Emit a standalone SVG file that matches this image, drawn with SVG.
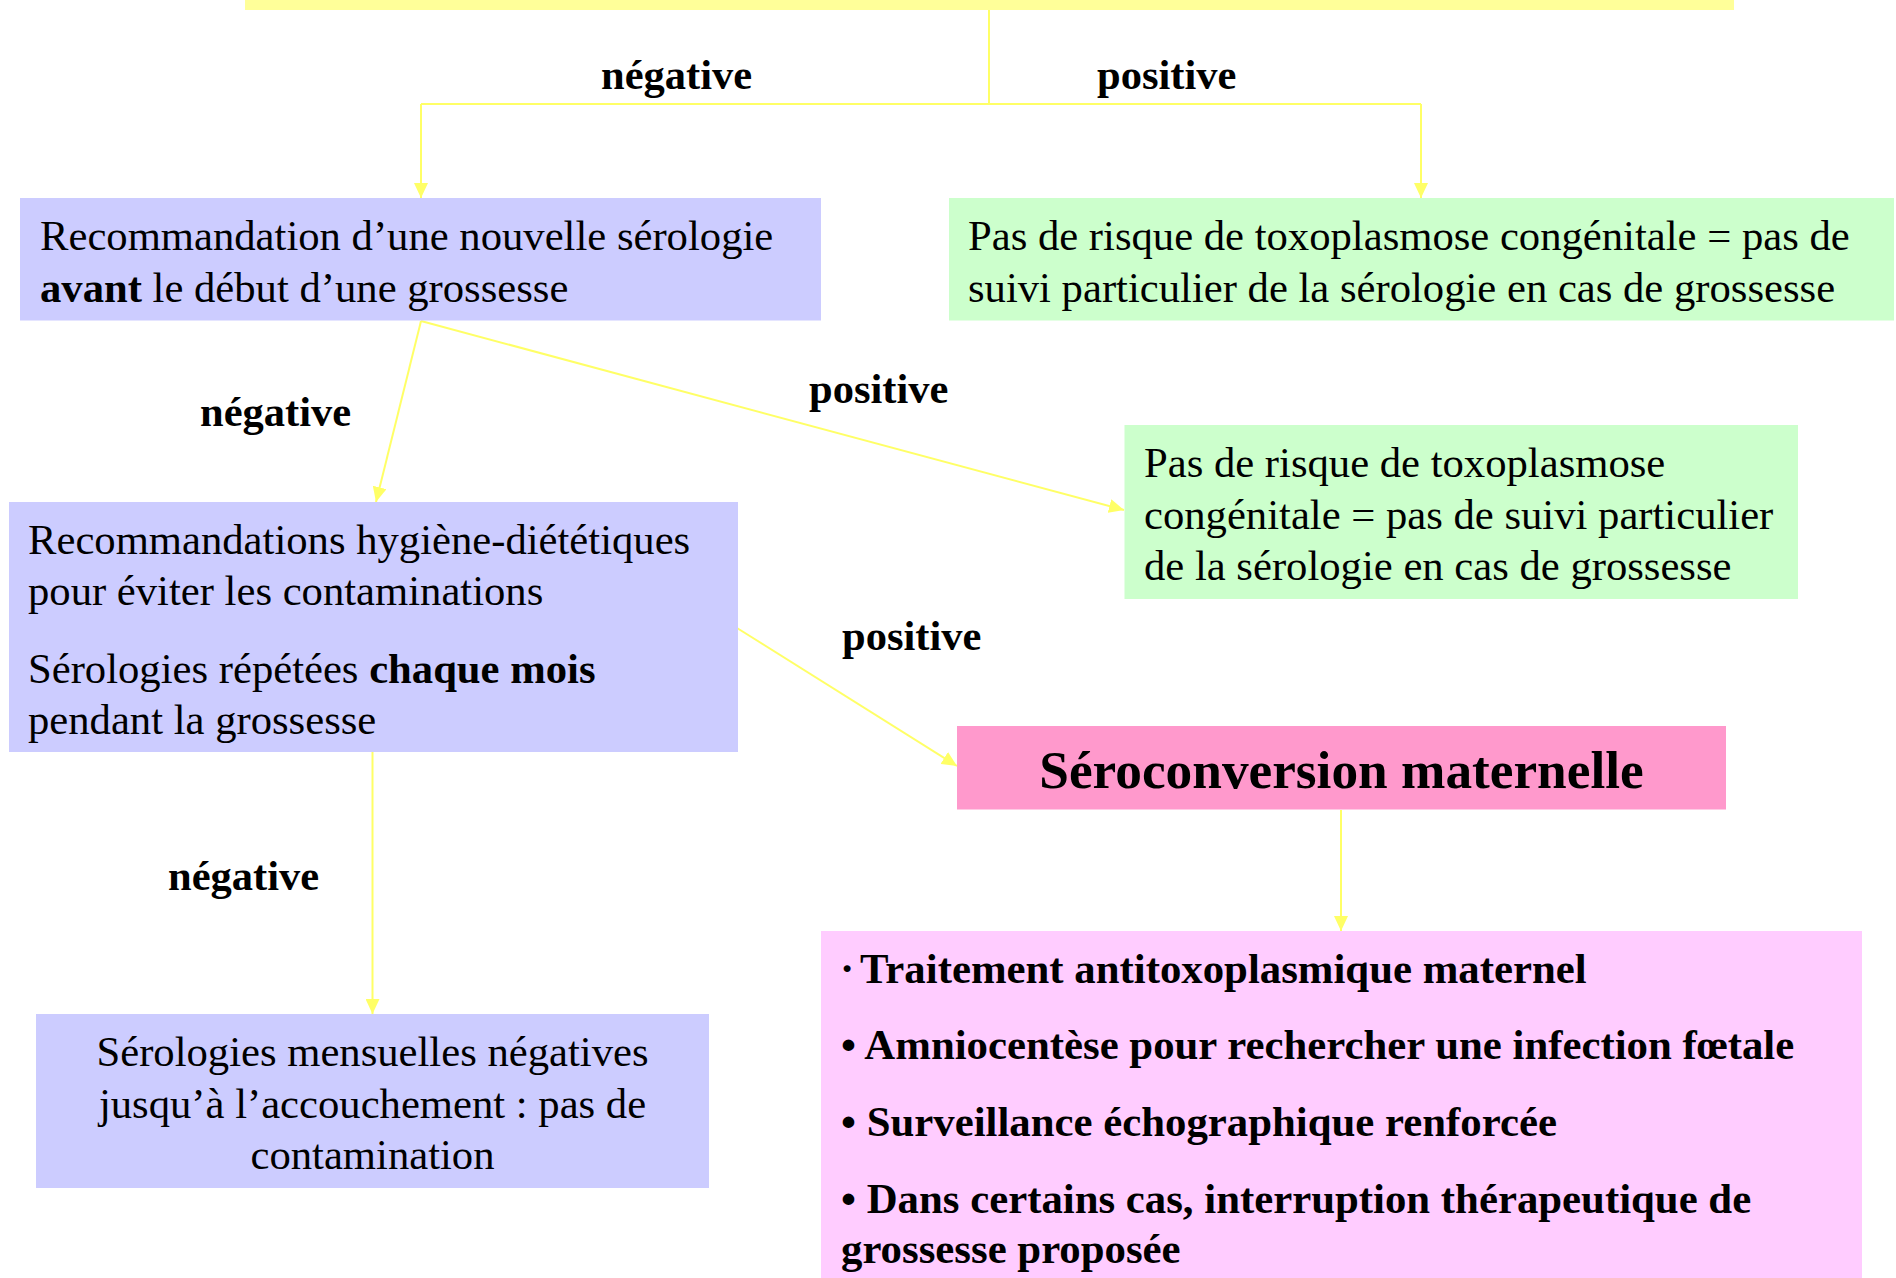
<svg xmlns="http://www.w3.org/2000/svg" width="1896" height="1278" viewBox="0 0 1896 1278">
<style>
.t{font-family:"Liberation Serif","Times New Roman",serif;font-size:42.67px;fill:#000}
.b{font-weight:bold}
.lbl{font-family:"Liberation Serif","Times New Roman",serif;font-size:42.5px;font-weight:bold;fill:#000}
.bl{font-family:"Liberation Serif","Times New Roman",serif;font-size:42.8px;font-weight:bold;fill:#000}
.c{stroke:#FFFF66;stroke-width:2;fill:none}
</style>
<defs>
<marker id="ah" markerUnits="userSpaceOnUse" markerWidth="16" markerHeight="14" refX="15" refY="7" orient="auto">
<path d="M0,0 L15,7 L0,14 Z" fill="#FFFF66"/>
</marker>
</defs>
<rect width="1896" height="1278" fill="#FFFFFF"/>

<g id="top">
<rect x="245" y="-40" width="1489" height="50" fill="#FFFF99"/>
</g>

<g id="connectors">
<path class="c" d="M989,10 V104"/>
<path class="c" d="M421,104 H1421"/>
<path class="c" d="M421,104 V198" marker-end="url(#ah)"/>
<path class="c" d="M1421,104 V198" marker-end="url(#ah)"/>
<path class="c" d="M421,321 L376,502" marker-end="url(#ah)"/>
<path class="c" d="M421,321 L1124,510" marker-end="url(#ah)"/>
<path class="c" d="M737,628 L957,766" marker-end="url(#ah)"/>
<path class="c" d="M372.5,752 V1014" marker-end="url(#ah)"/>
<path class="c" d="M1341,810 V931" marker-end="url(#ah)"/>
</g>

<g id="labels">
<text class="lbl" x="601" y="89">négative</text>
<text class="lbl" x="1097" y="89">positive</text>
<text class="lbl" x="200" y="426">négative</text>
<text class="lbl" x="809" y="403">positive</text>
<text class="lbl" x="842" y="650">positive</text>
<text class="lbl" x="168" y="890">négative</text>
</g>

<g id="n1">
<rect x="20" y="198" width="801" height="122.5" fill="#CCCCFF"/>
<text class="t" x="40" y="250">Recommandation d’une nouvelle sérologie</text>
<text class="t" x="40" y="302"><tspan class="b">avant</tspan> le début d’une grossesse</text>
</g>

<g id="n2">
<rect x="949" y="198" width="945" height="122.5" fill="#CCFFCC"/>
<text class="t" x="968" y="250">Pas de risque de toxoplasmose congénitale = pas de</text>
<text class="t" x="968" y="302">suivi particulier de la sérologie en cas de grossesse</text>
</g>

<g id="n3">
<rect x="9" y="502" width="729" height="250" fill="#CCCCFF"/>
<text class="t" x="28" y="554">Recommandations hygiène-diététiques</text>
<text class="t" x="28" y="605">pour éviter les contaminations</text>
<text class="t" x="28" y="683">Sérologies répétées <tspan class="b">chaque mois</tspan></text>
<text class="t" x="28" y="734">pendant la grossesse</text>
</g>

<g id="n4">
<rect x="1124.5" y="425" width="673.5" height="174" fill="#CCFFCC"/>
<text class="t" x="1144" y="477">Pas de risque de toxoplasmose</text>
<text class="t" x="1144" y="529">congénitale = pas de suivi particulier</text>
<text class="t" x="1144" y="580">de la sérologie en cas de grossesse</text>
</g>

<g id="n5">
<rect x="957" y="726" width="769" height="83.5" fill="#FF99CC"/>
<text class="t b" x="1341.5" y="788" text-anchor="middle" style="font-size:53.3px">Séroconversion maternelle</text>
</g>

<g id="n6">
<rect x="36" y="1014" width="673" height="174" fill="#CCCCFF"/>
<text class="t" x="372.5" y="1066" text-anchor="middle">Sérologies mensuelles négatives</text>
<text class="t" x="372.5" y="1118" text-anchor="middle">jusqu’à l’accouchement : pas de</text>
<text class="t" x="372.5" y="1169" text-anchor="middle">contamination</text>
</g>

<g id="n7">
<rect x="821" y="931" width="1041" height="360" fill="#FFCCFF"/>
<text class="bl" x="840" y="983">·</text>
<text class="bl" x="860" y="983">Traitement antitoxoplasmique maternel</text>
<text class="bl" x="841" y="1059">• Amniocentèse pour rechercher une infection fœtale</text>
<text class="bl" x="841" y="1136">• Surveillance échographique renforcée</text>
<text class="bl" x="841" y="1213">• Dans certains cas, interruption thérapeutique de</text>
<text class="bl" x="841" y="1263">grossesse proposée</text>
</g>
</svg>
